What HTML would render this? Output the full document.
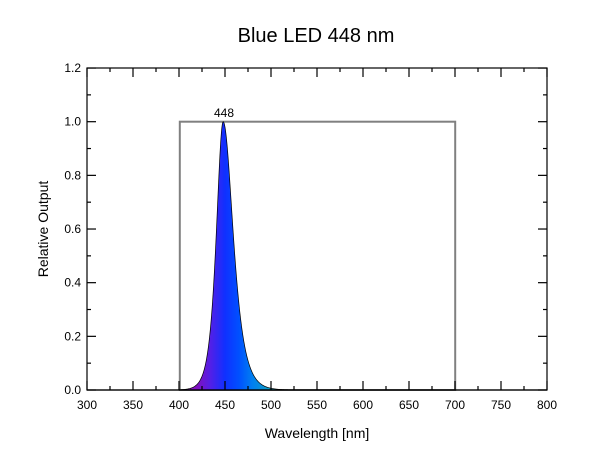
<!DOCTYPE html>
<html><head><style>
body{margin:0;background:#fff;}
svg text{font-family:"Liberation Sans",Arial,sans-serif;}
</style></head><body>
<svg id="s" width="600" height="450" viewBox="0 0 600 450" xmlns="http://www.w3.org/2000/svg">
<defs>
<linearGradient id="g" gradientUnits="userSpaceOnUse" x1="197" y1="0" x2="290" y2="0">
<stop offset="0" stop-color="#8010c0"/>
<stop offset="0.15" stop-color="#5020e8"/>
<stop offset="0.3" stop-color="#1030ff"/>
<stop offset="0.45" stop-color="#0050ff"/>
<stop offset="0.6" stop-color="#0080f0"/>
<stop offset="0.8" stop-color="#10a0c0"/>
<stop offset="1" stop-color="#20b090"/>
</linearGradient>
</defs>
<text x="316" y="42" font-size="20" text-anchor="middle">Blue LED 448 nm</text>
<rect x="179.8" y="121.7" width="275.4" height="268.3" fill="none" stroke="#808080" stroke-width="2"/>
<path id="pk" fill="url(#g)" stroke="#000" stroke-width="0.7"/>
<line x1="87" y1="390" x2="547" y2="390" stroke="#000" stroke-width="1.2"/>
<rect x="87" y="68" width="460" height="322" fill="none" stroke="#000" stroke-width="1.2"/>
<g id="ax" stroke="#000" stroke-width="1.2"></g>
<g id="lb" font-size="12"></g>
<text x="224" y="117" font-size="12" text-anchor="middle">448</text>
<text x="317" y="438" font-size="14" text-anchor="middle">Wavelength [nm]</text>
<text x="48" y="229" font-size="14" text-anchor="middle" transform="rotate(-90 48 229)">Relative Output</text>
</svg>
<script>
var X=function(n){return 87+(n-300)*0.92},Y=function(v){return 390-v*268.3};
var d="M"+X(400)+","+Y(0);
for(var n=400;n<=560;n+=0.5){var t=n-448,v;
if(t<0)v=1/Math.cosh(t/7.5);else v=1/Math.cosh(t/11);
v=Math.pow(v,1.25);d+=" L"+X(n).toFixed(2)+","+Y(v).toFixed(2);}
d+=" L"+X(560)+","+Y(0)+"Z";document.getElementById("pk").setAttribute("d",d);
var ax=document.getElementById("ax"),lb=document.getElementById("lb"),s="",l="";
for(var n=300;n<=800;n+=25){var x=X(n),L=(n%50==0)?9:4;
s+='<line x1="'+x+'" y1="390" x2="'+x+'" y2="'+(390-L)+'"/><line x1="'+x+'" y1="68" x2="'+x+'" y2="'+(68+L)+'"/>';
if(n%50==0)l+='<text x="'+x+'" y="409" text-anchor="middle">'+n+'</text>';}
for(var i=0;i<=12;i++){var v=i/10,y=Y(v),L=(i%2==0)?9:4;
s+='<line x1="87" y1="'+y+'" x2="'+(87+L)+'" y2="'+y+'"/><line x1="547" y1="'+y+'" x2="'+(547-L)+'" y2="'+y+'"/>';
if(i%2==0)l+='<text x="81" y="'+(y+4)+'" text-anchor="end">'+v.toFixed(1)+'</text>';}
ax.innerHTML=s;lb.innerHTML=l;
</script>
</body></html>
